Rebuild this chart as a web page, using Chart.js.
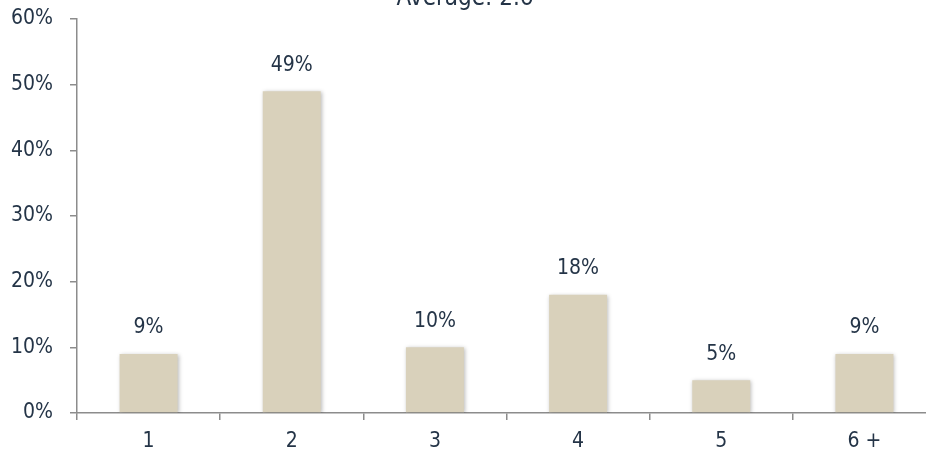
<!DOCTYPE html>
<html>
<head>
<meta charset="utf-8">
<script src="https://cdn.jsdelivr.net/npm/chart.js@4/dist/chart.umd.min.js"></script>
<style>
  html, body { margin: 0; padding: 0; background: #fff; overflow: hidden; }
  #wrap { width: 926px; height: 455px; overflow: hidden; position: relative; }
  canvas { display: block; }
</style>
</head>
<body>
<div id="wrap"><canvas id="c" width="940" height="455"></canvas></div>
<script>
// Household size distribution
const categories = ['1', '2', '3', '4', '5', '6 +'];
const shares = [9, 49, 10, 18, 5, 9];
const yTicks = [0, 10, 20, 30, 40, 50, 60];
const titleText = 'Average: 2.6';

const FONT = "'DejaVu Sans Condensed', 'DejaVu Sans', sans-serif";
const INK = '#243447';
const AXIS = '#8c8c8c';

const valueLabels = {
  id: 'valueLabels',
  afterDatasetsDraw(chart) {
    const ctx = chart.ctx;
    const meta = chart.getDatasetMeta(0);
    ctx.save();
    ctx.fillStyle = INK;
    ctx.font = '21px ' + FONT;
    ctx.textAlign = 'center';
    ctx.textBaseline = 'middle';
    meta.data.forEach((bar, i) => {
      ctx.fillText(shares[i] + '%', bar.x, bar.y - 26);
    });
    ctx.restore();
  }
};

const barShadow = {
  id: 'barShadow',
  beforeDatasetsDraw(chart) {
    const ctx = chart.ctx;
    ctx.save();
    ctx.shadowColor = 'rgba(0,0,0,0.28)';
    ctx.shadowBlur = 4;
    ctx.shadowOffsetX = 1;
    ctx.shadowOffsetY = 1;
  },
  afterDatasetsDraw(chart) {
    chart.ctx.restore();
  }
};

const topTitle = {
  id: 'topTitle',
  afterDraw(chart) {
    const ctx = chart.ctx;
    ctx.save();
    ctx.fillStyle = INK;
    ctx.font = '24px ' + FONT;
    ctx.textAlign = 'center';
    ctx.textBaseline = 'alphabetic';
    ctx.fillText(titleText, 465, 5);
    ctx.restore();
  }
};

new Chart(document.getElementById('c'), {
  type: 'bar',
  data: {
    labels: categories,
    datasets: [{
      data: shares,
      backgroundColor: '#d9d1bb',
      borderWidth: 0,
      barPercentage: 0.81,
      categoryPercentage: 0.5
    }]
  },
  options: {
    responsive: false,
    animation: false,
    layout: { padding: { top: 0, right: 4, left: 0, bottom: 0 } },
    plugins: {
      legend: { display: false },
      tooltip: { enabled: false },
      title: { display: false }
    },
    scales: {
      x: {
        offset: true,
        grid: {
          offset: true,
          drawOnChartArea: false,
          drawTicks: true,
          tickLength: 7,
          color: AXIS,
          lineWidth: 1.5
        },
        border: { display: true, color: AXIS, width: 1.5 },
        ticks: {
          color: INK,
          font: { family: FONT, size: 21 },
          padding: 9,
          maxRotation: 0
        },
        afterFit(scale) { scale.height = 42; }
      },
      y: {
        min: 0,
        max: 60,
        afterBuildTicks(scale) {
          scale.ticks = yTicks.map(v => ({ value: v }));
        },
        grid: {
          drawOnChartArea: false,
          drawTicks: true,
          tickLength: 7,
          color: AXIS,
          lineWidth: 1.5
        },
        border: { display: true, color: AXIS, width: 1.5 },
        ticks: {
          color: INK,
          font: { family: FONT, size: 21 },
          padding: 17,
          callback: v => v + '%'
        },
        afterFit(scale) {
          scale.width = 77;
          scale.paddingTop = 19;
          scale.paddingBottom = 0;
        }
      }
    }
  },
  plugins: [barShadow, valueLabels, topTitle]
});
</script>
</body>
</html>
